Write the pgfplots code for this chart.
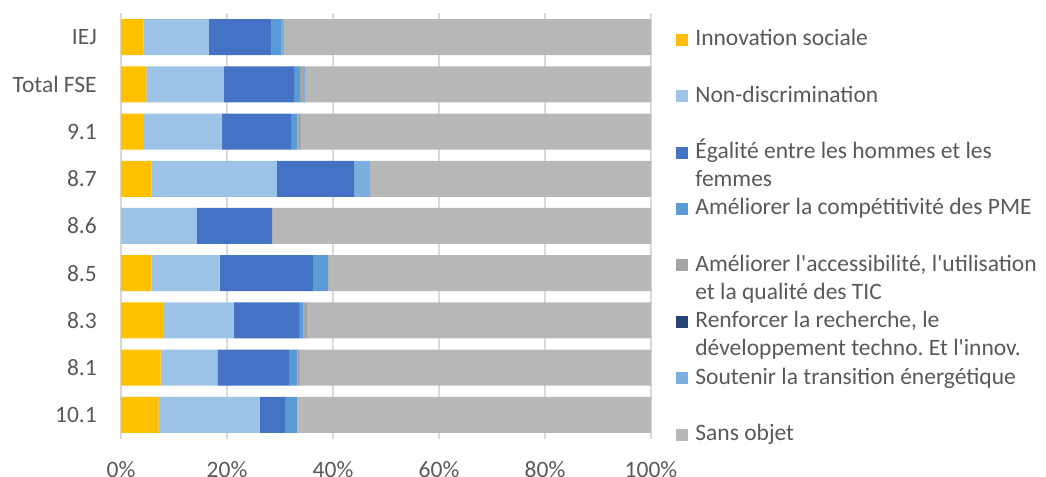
\documentclass[border=0pt]{standalone}
\usepackage{pgfplots}
\usepackage{pgfplotstable}
\pgfplotsset{compat=1.18}
\usepackage{fontspec}
\setmainfont{Carlito}[Ligatures=TeXOff]
\definecolor{cIS}{HTML}{FFC000}
\definecolor{cND}{HTML}{9DC3E6}
\definecolor{cEG}{HTML}{4472C4}
\definecolor{cPME}{HTML}{5B9BD5}
\definecolor{cTIC}{HTML}{A5A5A5}
\definecolor{cRR}{HTML}{264478}
\definecolor{cTE}{HTML}{7CAFDD}
\definecolor{cSO}{HTML}{B7B7B7}
\definecolor{txt}{HTML}{595959}
\definecolor{grd}{HTML}{D9D9D9}
\pgfplotstableread{
y is nd eg pme tic rr te so
0 7.1 19.1 4.7 2.4 0 0 0 66.7
1 7.5 10.7 13.5 1.6 0.6 0 0 66.1
2 8.1 13.2 12.3 0.8 0.7 0 0 64.9
3 5.8 12.8 17.6 2.9 0 0 0 60.9
4 0 14.3 14.2 0 0 0 0 71.5
5 5.8 23.6 14.6 0 0 0 3.0 53.0
6 4.3 14.8 13.0 1.2 0.8 0 0 65.9
7 4.8 14.6 13.2 1.2 0.5 0 0.4 65.3
8 4.2 12.4 11.8 1.8 0 0 0.55 69.25
}\data
\begin{document}
\fontsize{11.75}{14}\selectfont
\frenchspacing
\begin{tikzpicture}
\begin{axis}[
  at={(0pt,0pt)}, anchor=south west,
  scale only axis, width=265pt, height=212.6pt,
  xbar stacked, bar width=18pt,
  xmin=0, xmax=100, ymin=-0.5, ymax=8.5,
  xtick={0,20,40,60,80,100},
  xticklabels={0\%,20\%,40\%,60\%,80\%,100\%},
  ytick={0,...,8},
  yticklabels={10.1,8.1,8.3,8.5,8.6,8.7,9.1,Total FSE,IEJ},
  major tick length=0pt,
  axis line style={draw=none},
  xmajorgrids, grid style={grd, line width=0.75pt},
  tick label style={text=txt, font=\fontsize{11.75}{14}\selectfont},
  xticklabel style={yshift=-7.5pt},
  yticklabel style={xshift=-8pt},
  mybar/.style={fill=#1, draw=none},
]
\addplot[mybar=cIS] table[x=is, y=y] {\data};
\addplot[mybar=cND] table[x=nd, y=y] {\data};
\addplot[mybar=cEG] table[x=eg, y=y] {\data};
\addplot[mybar=cPME] table[x=pme, y=y] {\data};
\addplot[mybar=cTIC] table[x=tic, y=y] {\data};
\addplot[mybar=cRR] table[x=rr, y=y] {\data};
\addplot[mybar=cTE] table[x=te, y=y] {\data};
\addplot[mybar=cSO] table[x=so, y=y] {\data};
\end{axis}
% legend
\foreach \c/\t [count=\i from 0] in {
  cIS/{Innovation sociale},
  cND/{Non-discrimination},
  cEG/{Égalité entre les hommes et les\\femmes},
  cPME/{Améliorer la compétitivité des PME},
  cTIC/{Améliorer l'accessibilité, l'utilisation\\et la qualité des TIC},
  cRR/{Renforcer la recherche, le\\développement techno.\ Et l'innov.},
  cTE/{Soutenir la transition énergétique},
  cSO/{Sans objet}} {
  \pgfmathsetmacro{\yy}{196.4-28.2*\i}
  \fill[\c] (277.5pt,\yy pt) rectangle (283.5pt,\yy pt+6pt);
  \node[anchor=base west, inner sep=0pt, text=txt] at (287pt,\yy pt)
    {\parbox[t]{180pt}{\fontsize{11.75}{14}\selectfont\frenchspacing\t}};
}
\pgfresetboundingbox
\path[use as bounding box] (-60.5pt,-19.2pt) rectangle (462.5pt,219.3pt);
\end{tikzpicture}
\end{document}
